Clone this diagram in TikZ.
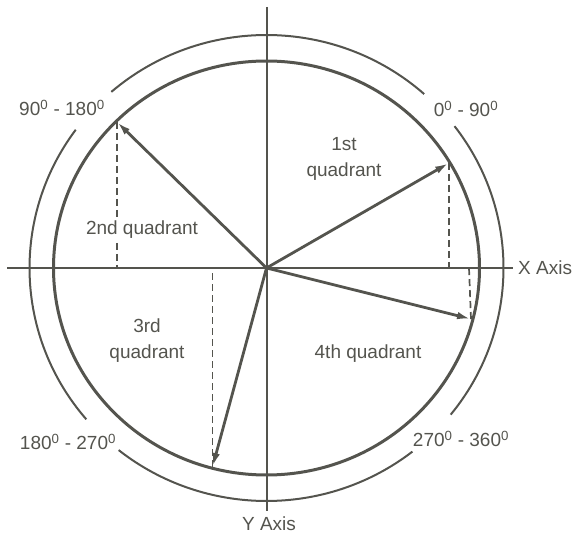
\documentclass[tikz,border=0pt]{standalone}
\usepackage{fontspec}
\setmainfont{Liberation Sans}
\usetikzlibrary{arrows.meta,calc}
\definecolor{ink}{RGB}{84,84,78}
\begin{document}
\begin{tikzpicture}[x=1pt,y=1pt,
  every node/.style={text=ink,font=\fontsize{19}{26}\selectfont,inner sep=0pt},
  axisline/.style={draw=ink,line width=2pt},
  innerring/.style={draw=ink,line width=3pt},
  outerring/.style={draw=ink,line width=2pt},
  vec/.style={draw=ink,line width=2.8pt,-{Latex[length=14pt,width=7.5pt]}},
  proj/.style={draw=ink,line width=1.7pt,dash pattern=on 7pt off 4pt}]
\useasboundingbox (0,0) rectangle (572,538);
\coordinate (O) at (266.5,270);
% axes
\coordinate (XL) at (7,270);
\coordinate (XR) at (513,270);
\coordinate (YT) at (266.5,531);
\coordinate (YB) at (266.5,27);
\draw[axisline] (XL) -- (XR);
\draw[axisline] (YT) -- (YB);
% inner ring
\draw[innerring] (O) ellipse [x radius=213, y radius=207];
% outer ring arcs
\draw[outerring] ($(O)+(48.3:237 and 233)$) arc[start angle=48.3, end angle=130.9, x radius=237, y radius=233];
\draw[outerring] ($(O)+(143.6:237 and 233)$) arc[start angle=143.6, end angle=220.5, x radius=237, y radius=233];
\draw[outerring] ($(O)+(231.4:237 and 233)$) arc[start angle=231.4, end angle=308, x radius=237, y radius=233];
\draw[outerring] ($(O)+(-39:237 and 233)$) arc[start angle=-39, end angle=37.5, x radius=237, y radius=233];
% vector tips and feet
\coordinate (P1) at (449,375);
\coordinate (P2) at (117,416);
\coordinate (P3) at (212.5,71);
\coordinate (P4) at (471,219);
\coordinate (F1) at (449,270);
\coordinate (F2) at (117,270);
\coordinate (F3) at (212.5,270);
\coordinate (F4) at (469,270);
\draw[proj] (P1) -- (F1);
\draw[proj] (P2) -- (F2);
\draw[proj] (P3) -- (F3);
\draw[proj] (P4) -- (F4);
\draw[vec] (O) -- (P1);
\draw[vec] (O) -- (P2);
\draw[vec] (O) -- (P3);
\draw[vec] (O) -- (P4);
% labels
\node[align=center] (q1) at (344,379) {1st\\quadrant};
\node[fill=white,inner sep=2pt] (q2) at (142,308) {2nd quadrant};
\node[align=center] (q3) at (147,197) {3rd\\quadrant};
\node (q4) at (368,184) {4th quadrant};
\node (r1) at (466,429) {0\textsuperscript{0} - 90\textsuperscript{0}};
\node (r2) at (62,430) {90\textsuperscript{0} - 180\textsuperscript{0}};
\node (r3) at (68,96) {180\textsuperscript{0} - 270\textsuperscript{0}};
\node (r4) at (461,99) {270\textsuperscript{0} - 360\textsuperscript{0}};
\node[anchor=west] (xa) at (518,270) {X Axis};
\node (ya) at (269,14) {Y Axis};
\end{tikzpicture}
\end{document}
